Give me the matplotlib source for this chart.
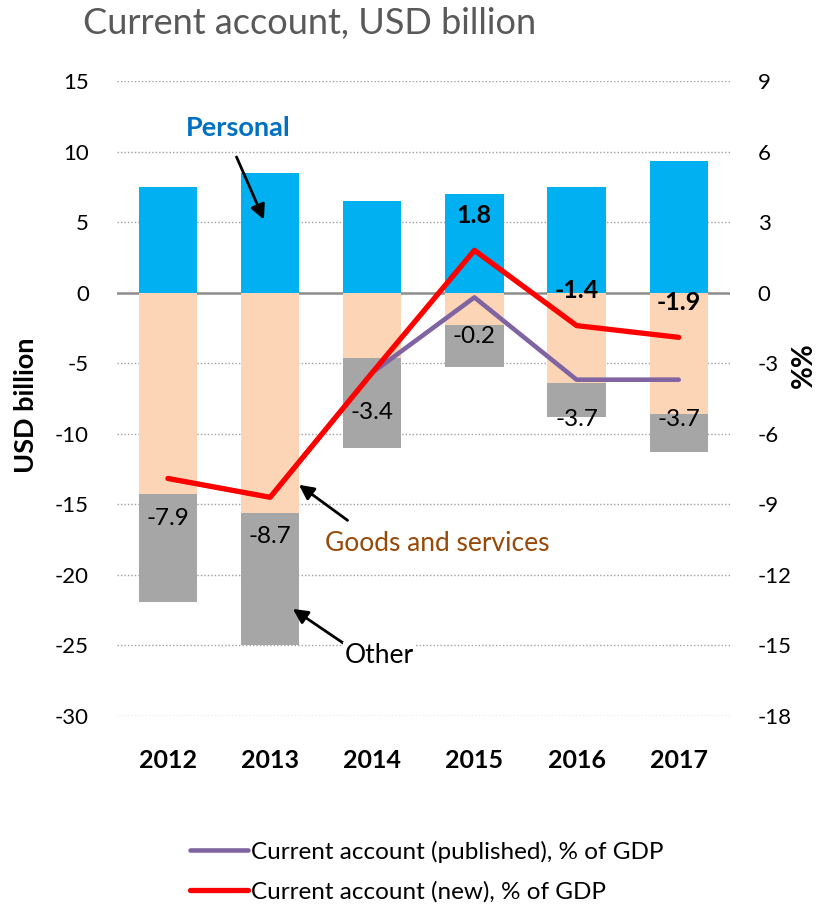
import matplotlib
matplotlib.use("Agg")
import matplotlib.pyplot as plt
import numpy as np

# --- Data ---
years = ["2012", "2013", "2014", "2015", "2016", "2017"]
personal = [7.5, 8.5, 6.5, 7.0, 7.5, 9.3]
goods_services = [-14.3, -15.6, -4.6, -2.3, -6.4, -8.6]
other = [-7.6, -9.4, -6.4, -3.0, -2.4, -2.7]
ca_published = [-7.9, -8.7, -3.4, -0.2, -3.7, -3.7]
ca_new = [-7.9, -8.7, -3.4, 1.8, -1.4, -1.9]
new_label_years = ["2015", "2016", "2017"]

# --- Style ---
plt.rcParams["font.family"] = ["Lato", "DejaVu Sans"]
plt.rcParams["axes.unicode_minus"] = False
c_personal = "#00B0F0"
c_goods = "#FBD5B5"
c_other = "#A6A6A6"
c_pub = "#8064A2"
c_new = "#FF0000"

fig = plt.figure(figsize=(8.35, 9.09), dpi=100)
ax = fig.add_axes([0.140, 0.2123, 0.734, 0.6986])
ax2 = ax.twinx()

x = np.arange(len(years))
w = 0.57

# grid
for yv in np.arange(-30, 16, 5):
    if yv == 0:
        ax.axhline(0, color="#8C8C8C", lw=1.8, zorder=1)
    else:
        ax.axhline(yv, color="#A0A0A0", lw=1.0, ls=(0, (1, 1.5)), zorder=0)

ax.bar(x, personal, w, color=c_personal, zorder=2)
ax.bar(x, goods_services, w, color=c_goods, zorder=2)
ax.bar(x, other, w, bottom=goods_services, color=c_other, zorder=2)

ax.set_xlim(-0.5, 5.5)
ax.set_ylim(-30, 15)
ax.set_yticks(np.arange(-30, 16, 5))
ax.set_xticks(x)
ax.set_xticklabels(years, fontsize=18, fontweight="bold")
ax.tick_params(axis="both", length=0)
ax.tick_params(axis="y", labelsize=16, pad=20)
ax.tick_params(axis="x", pad=24)
for s in ax.spines.values():
    s.set_visible(False)
ax.set_ylabel("USD billion", fontsize=19.5, fontweight="bold")
ax.yaxis.set_label_coords(-0.128, 0.49)

# lines on right axis
ax2.plot(x, ca_published, color=c_pub, lw=3.3, solid_capstyle="round",
         label="Current account (published), % of GDP", zorder=3)
ax2.plot(x, ca_new, color=c_new, lw=3.8, solid_capstyle="round",
         label="Current account (new), % of GDP", zorder=4)
ax2.set_ylim(-18, 9)
ax2.set_yticks(np.arange(-18, 10, 3))
ax2.tick_params(axis="y", length=0, labelsize=16, pad=20)
for s in ax2.spines.values():
    s.set_visible(False)
ax2.set_ylabel("%%", fontsize=20, fontweight="bold")
ax2.yaxis.set_label_coords(1.10, 0.553)

# data labels
for xi, v in zip(x, ca_published):
    ax2.annotate(f"{v:.1f}", (xi, v), xytext=(0, -28.5), textcoords="offset points",
                 ha="center", va="center", fontsize=17.5, zorder=5)
for xi, (yr, v) in zip(x, zip(years, ca_new)):
    if yr in new_label_years:
        ax2.annotate(f"{v:.1f}", (xi, v), xytext=(0, 25), textcoords="offset points",
                     ha="center", va="center", fontsize=18, fontweight="bold", zorder=5)

# annotations
arrow = dict(arrowstyle="-|>", color="black", lw=2, mutation_scale=22)
ax.text(0.69, 11.7, "Personal", color="#0070C0", fontsize=19.5, fontweight="bold",
        ha="center", va="center")
ax.annotate("", xy=(0.95, 5.0), xytext=(0.66, 9.8), arrowprops=arrow)
ax.text(1.535, -17.75, "Goods and services", color="#984807", fontsize=19,
        ha="left", va="center")
ax.annotate("", xy=(1.26, -13.5), xytext=(1.78, -16.25), arrowprops=arrow)
ax.text(1.73, -25.7, "Other", color="black", fontsize=19, ha="left", va="center",
        bbox=dict(facecolor="white", edgecolor="none", pad=1), zorder=6)
ax.annotate("", xy=(1.20, -22.3), xytext=(1.75, -25.0), arrowprops=arrow)

fig.text(0.0994, 0.974, "Current account, USD billion", fontsize=26, color="#595959",
         ha="left", va="center")

h, l = ax2.get_legend_handles_labels()
fig.legend(h, l, loc="upper left", bbox_to_anchor=(0.2275, 0.075), frameon=False,
           fontsize=17.5, handlelength=2.4, handletextpad=0.1, labelspacing=0.75,
           borderpad=0, borderaxespad=0)

fig.savefig("out.png", dpi=100)
